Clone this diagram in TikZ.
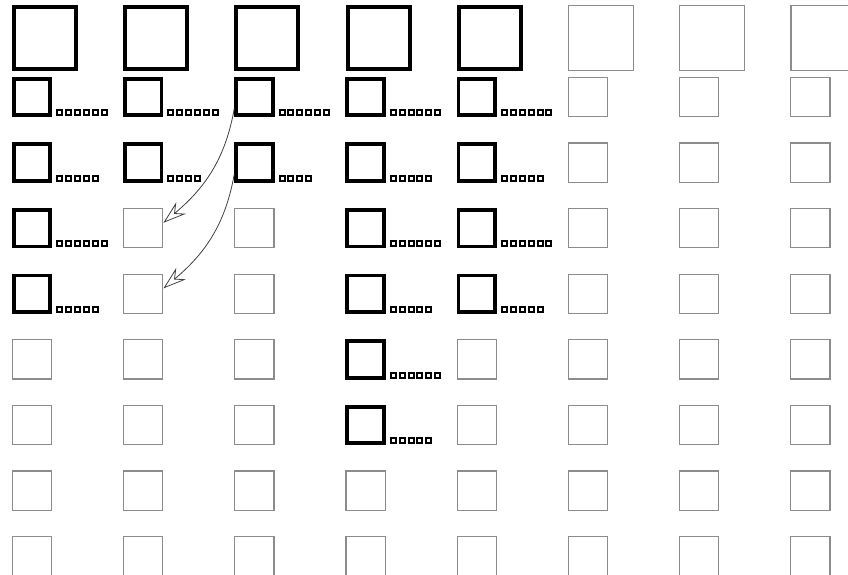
\documentclass[tikz,border=0pt]{standalone}
\usepackage{tikz}
\usetikzlibrary{positioning, arrows.meta}

\begin{document}
\begin{tikzpicture}[
  x=1pt, y=1pt,
  bigon/.style={draw, line width=4pt, fill=white, minimum size=62pt, inner sep=0pt},
  bigoff/.style={draw=black!45, line width=1.2pt, minimum size=64.8pt, inner sep=0pt},
  cellon/.style={draw, line width=3.8pt, fill=white, minimum size=36.5pt, inner sep=0pt},
  celloff/.style={draw=black!45, line width=1.2pt, minimum size=39.3pt, inner sep=0pt},
  slot/.style={draw, line width=2pt, fill=white, minimum size=5pt, inner sep=0pt, outer sep=0pt},
  arr/.style={-{Stealth[open, length=23pt, width=15pt, inset=8pt]}, black!75, line width=0.8pt}
]
  \clip (0,0) rectangle (848,-575);

  % top row
  \foreach \c/\sty in {1/bigon,2/bigon,3/bigon,4/bigon,5/bigon,6/bigoff,7/bigoff,8/bigoff}
    \node[\sty] (t-\c) at ({45+111.2*(\c-1)}, -38) {};

  % columns in use: depth, slots on even rows
  \foreach \c/\depth/\m in {1/4/5, 2/2/4, 3/2/4, 4/6/5, 5/4/5} {
    \foreach \r in {1,...,\depth} {
      \pgfmathtruncatemacro\n{isodd(\r) ? 6 : \m}
      \node[cellon] (c-\r-\c) at ({32+111.2*(\c-1)}, {-97-65.6*(\r-1)}) {};
      \node[slot, above right=2pt and 5pt of c-\r-\c.south east] (c-\r-\c-1) {};
      \foreach \k [remember=\k as \p (initially 1)] in {2,...,\n}
        \node[slot, right=3.9pt of c-\r-\c-\p] (c-\r-\c-\k) {};
    }
    \pgfmathtruncatemacro\first{\depth+1}
    \foreach \r in {\first,...,8}
      \node[celloff] (c-\r-\c) at ({32+111.2*(\c-1)}, {-97-65.6*(\r-1)}) {};
  }

  % empty columns
  \foreach \c in {6,7,8}
    \foreach \r in {1,...,8}
      \node[celloff] (c-\r-\c) at ({32+111.2*(\c-1)}, {-97-65.6*(\r-1)}) {};

  \draw[arr] (c-1-3.210) to[out=-100, in=40] (c-3-2.15);
  \draw[arr] (c-2-3.210) to[out=-100, in=40] (c-4-2.15);
\end{tikzpicture}
\end{document}
